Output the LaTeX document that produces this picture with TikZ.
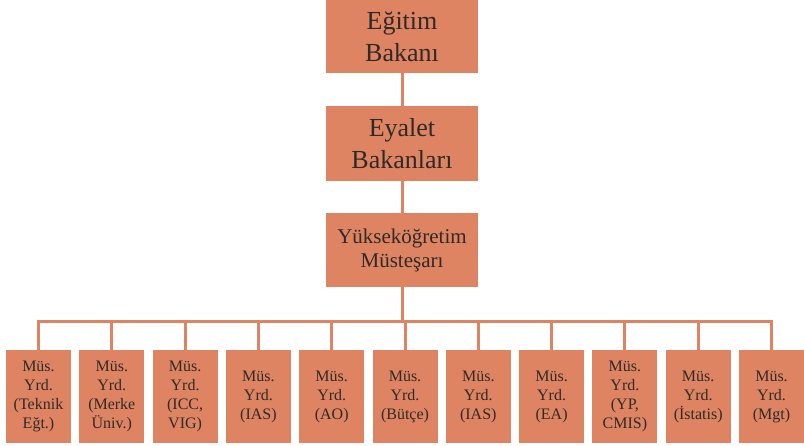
\documentclass[tikz,border=0pt]{standalone}
\usepackage{fontspec}
\setmainfont{Liberation Serif}
\definecolor{boxfill}{HTML}{DE8462}
\definecolor{boxtext}{HTML}{2E2A28}

\begin{document}
\begin{tikzpicture}[x=1pt, y=-1pt,
    main box/.style={fill=boxfill, text=boxtext, align=center, inner sep=0pt,
        minimum width=152pt, font=\fontsize{26}{32}\selectfont},
    aide box/.style={fill=boxfill, text=boxtext, align=center, inner sep=0pt,
        minimum width=65pt, minimum height=93pt, font=\fontsize{16}{19}\selectfont},
    link/.style={draw=boxfill, line width=3pt}]
    \useasboundingbox (0,0) rectangle (804,445);

    \node[main box, minimum height=73pt] (bakan) at (402,36.5) {Eğitim\\Bakanı};
    \node[main box, minimum height=75pt] (eyalet) at (402,143.5) {Eyalet\\Bakanları};
    \node[main box, minimum height=74pt, font=\fontsize{21}{24}\selectfont] (mustesar) at (402,250)
        {Yükseköğretim\\Müsteşarı};
    \coordinate (bar) at (402,321.5);

    \draw[link] (bakan) -- (eyalet);
    \draw[link] (eyalet) -- (mustesar);
    \draw[link] (mustesar) -- (bar);

    \foreach \i/\xtext in {1/{(Teknik\\Eğt.)}, 2/{(Merke\\Üniv.)}, 3/{(ICC,\\VIG)}, 4/{(IAS)}, 5/{(AO)},
        6/{(Bütçe)}, 7/{(IAS)}, 8/{(EA)}, 9/{(YP,\\CMIS)}, 10/{(İstatis)}, 11/{(Mgt)}}
    {
        \node[aide box] (yrd\i) at ({38.5+73.3*(\i-1)},396.5) {Müs.\\Yrd.\\\xtext};
        \draw[link] (yrd\i.north) |- (bar);
    }
\end{tikzpicture}
\end{document}
